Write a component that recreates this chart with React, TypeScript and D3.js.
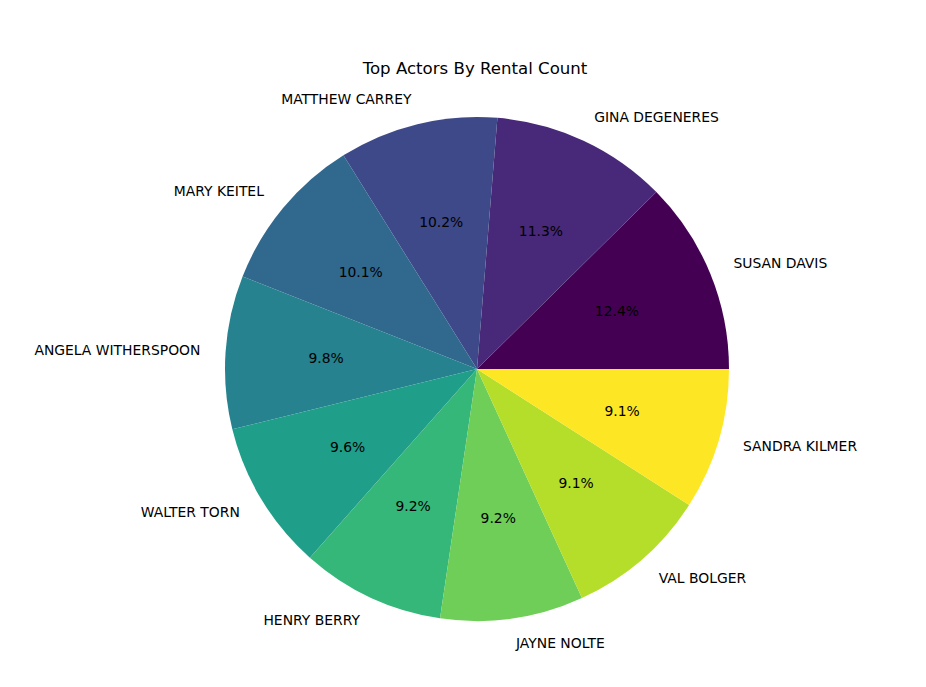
import { useEffect, useRef } from "react"
import * as d3 from "d3"

const actors = [
  "SUSAN DAVIS",
  "GINA DEGENERES",
  "MATTHEW CARREY",
  "MARY KEITEL",
  "ANGELA WITHERSPOON",
  "WALTER TORN",
  "HENRY BERRY",
  "JAYNE NOLTE",
  "VAL BOLGER",
  "SANDRA KILMER",
]
const rentals = [825, 753, 678, 674, 654, 640, 612, 611, 605, 604]

export default function App() {
  const svgRef = useRef<SVGSVGElement>(null)

  useEffect(() => {
    const svg = d3.select(svgRef.current)
    svg.selectAll("*").remove()

    const width = 926
    const height = 687
    const cx = 477
    const cy = 369
    const r = 252
    const font = "'DejaVu Sans', sans-serif"

    svg.attr("width", width).attr("height", height)
    svg.append("rect").attr("width", width).attr("height", height).attr("fill", "#fff")

    const total = d3.sum(rentals)
    const data = actors.map((name, i) => ({ name, value: rentals[i], i }))

    // matplotlib style: start at 3 o'clock, counter-clockwise
    const pie = d3
      .pie<{ name: string; value: number; i: number }>()
      .value(d => d.value)
      .sort(null)
      .startAngle(Math.PI / 2)
      .endAngle(Math.PI / 2 - 2 * Math.PI)

    const arcs = pie(data)
    const arc = d3.arc<d3.PieArcDatum<any>>().innerRadius(0).outerRadius(r)
    const color = (i: number) => d3.interpolateViridis(i / (actors.length - 1))

    const g = svg.append("g").attr("transform", `translate(${cx},${cy})`)

    g.selectAll("path.slice")
      .data(arcs)
      .enter()
      .append("path")
      .attr("class", "slice")
      .attr("d", d => arc(d) as string)
      .attr("fill", d => color(d.data.i))

    const mid = (d: d3.PieArcDatum<any>) => (d.startAngle + d.endAngle) / 2

    // outer labels at 1.1r
    g.selectAll("text.label")
      .data(arcs)
      .enter()
      .append("text")
      .attr("class", "label")
      .attr("x", d => 1.1 * r * Math.sin(mid(d)))
      .attr("y", d => -1.1 * r * Math.cos(mid(d)) - 0.5)
      .attr("text-anchor", d => (Math.sin(mid(d)) > 0 ? "start" : "end"))
      .attr("dominant-baseline", "central")
      .style("font-family", font)
      .style("font-size", "13.9px")
      .attr("fill", "#000")
      .text(d => d.data.name)

    // percent labels at 0.6r
    g.selectAll("text.pct")
      .data(arcs)
      .enter()
      .append("text")
      .attr("class", "pct")
      .attr("x", d => 0.6 * r * Math.sin(mid(d)))
      .attr("y", d => -0.6 * r * Math.cos(mid(d)) - 0.5)
      .attr("text-anchor", "middle")
      .attr("dominant-baseline", "central")
      .style("font-family", font)
      .style("font-size", "13.9px")
      .attr("fill", "#000")
      .text(d => `${((d.data.value / total) * 100).toFixed(1)}%`)

    svg
      .append("text")
      .attr("x", 475)
      .attr("y", 74)
      .attr("text-anchor", "middle")
      .style("font-family", font)
      .style("font-size", "16.6px")
      .attr("fill", "#000")
      .text("Top Actors By Rental Count")
  }, [])

  return <svg ref={svgRef} style={{ position: "absolute", left: 0, top: 0 }}></svg>
}
